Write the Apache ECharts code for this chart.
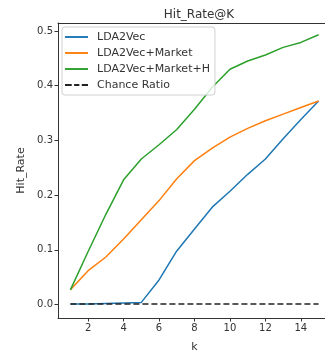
<!DOCTYPE html>
<html><head><meta charset="utf-8">
<script src="https://cdn.jsdelivr.net/npm/echarts@6/dist/echarts.min.js"></script>
<style>html,body{margin:0;padding:0;background:#fff}#c{width:325px;height:351px}</style>
</head><body><div id="c"></div>
<script>
const kValues = [1,2,3,4,5,6,7,8,9,10,11,12,13,14,15];
const lda2vec = [0.001,0.001,0.002,0.003,0.004,0.045,0.098,0.138,0.178,0.207,0.238,0.266,0.303,0.338,0.372];
const lda2vecMarket = [0.027,0.062,0.087,0.120,0.155,0.190,0.230,0.263,0.286,0.306,0.322,0.336,0.348,0.360,0.372];
const lda2vecMarketH = [0.027,0.097,0.165,0.228,0.266,0.292,0.320,0.357,0.397,0.430,0.445,0.456,0.470,0.479,0.493];
const chanceRatio = [0.001,0.001,0.001,0.001,0.001,0.001,0.001,0.001,0.001,0.001,0.001,0.001,0.001,0.001,0.001];
const xTicks = [2,4,6,8,10,12,14];
const yTicks = [0.0,0.1,0.2,0.3,0.4,0.5];

const font = 'DejaVu Sans';
const txt = '#333';
function pairs(arr){ return kValues.map((k,i)=>[k,arr[i]]); }
const lineIcon = 'path://M0,0L24,0L24,2L0,2Z';
const dashIcon = 'path://M0,0L7,0L7,2L0,2ZM9.5,0L15,0L15,2L9.5,2ZM17.5,0L24,0L24,2L17.5,2Z';
const frame = {show:true, onZero:false, lineStyle:{color:'#333', width:1}};

const chart = echarts.init(document.getElementById('c'));
chart.setOption({
  animation:false,
  backgroundColor:'#fff',
  title:{text:'Hit_Rate@K', left:194, top:4, textAlign:'center',
    textStyle:{fontFamily:font, fontSize:12, fontWeight:'normal', color:txt}},
  grid:{left:58, top:23, width:273, height:295, show:false,
    outerBoundsMode:'none', containLabel:false},
  legend:{orient:'vertical', left:62, top:27, padding:[4,5,4,3], itemGap:4,
    itemWidth:23, itemHeight:2, borderColor:'#d0d0d0', borderWidth:1, borderRadius:3,
    backgroundColor:'rgba(255,255,255,0.8)',
    textStyle:{fontFamily:font, fontSize:11, color:txt, lineHeight:12, padding:[0,0,0,4]},
    data:[
      {name:'LDA2Vec', icon:lineIcon},
      {name:'LDA2Vec+Market', icon:lineIcon},
      {name:'LDA2Vec+Market+H', icon:lineIcon},
      {name:'Chance Ratio', icon:dashIcon, itemStyle:{color:'#222'}}
    ]},
  xAxis:[{type:'value', min:0.3, max:15.7, name:'k', nameLocation:'middle', nameGap:24,
    nameTextStyle:{fontFamily:font, fontSize:11, color:txt},
    axisLine:frame, splitLine:{show:false},
    axisTick:{show:true, inside:false, length:3.5, customValues:xTicks, lineStyle:{color:'#333'}},
    axisLabel:{customValues:xTicks, fontFamily:font, fontSize:10, color:txt, margin:5}},
    {type:'value', position:'top', min:0.3, max:15.7, axisLine:frame,
     axisTick:{show:false}, axisLabel:{show:false}, splitLine:{show:false}}],
  yAxis:{type:'value', min:-0.0245, max:0.5145, name:'Hit_Rate', nameLocation:'middle', nameGap:27,
    nameTextStyle:{fontFamily:font, fontSize:11, color:txt},
    axisLine:frame, splitLine:{show:false},
    axisTick:{show:true, inside:false, length:3.5, customValues:yTicks, lineStyle:{color:'#333'}},
    axisLabel:{customValues:yTicks, fontFamily:font, fontSize:10, color:txt, margin:5,
      formatter:v=>v.toFixed(1)}},
  series:[
    {name:'LDA2Vec', type:'line', data:pairs(lda2vec), showSymbol:false, symbol:'none',
      lineStyle:{width:1.5, color:'#1f77b4'}, itemStyle:{color:'#1f77b4'}},
    {name:'LDA2Vec+Market', type:'line', data:pairs(lda2vecMarket), showSymbol:false, symbol:'none',
      lineStyle:{width:1.5, color:'#ff7f0e'}, itemStyle:{color:'#ff7f0e'}},
    {name:'LDA2Vec+Market+H', type:'line', data:pairs(lda2vecMarketH), showSymbol:false, symbol:'none',
      lineStyle:{width:1.5, color:'#2ca02c'}, itemStyle:{color:'#2ca02c'}},
    {name:'Chance Ratio', type:'line', data:pairs(chanceRatio), showSymbol:false, symbol:'none',
      lineStyle:{width:1.5, color:'#222', type:[6,3]}, itemStyle:{color:'#222'}}
  ]
});
</script></body></html>
